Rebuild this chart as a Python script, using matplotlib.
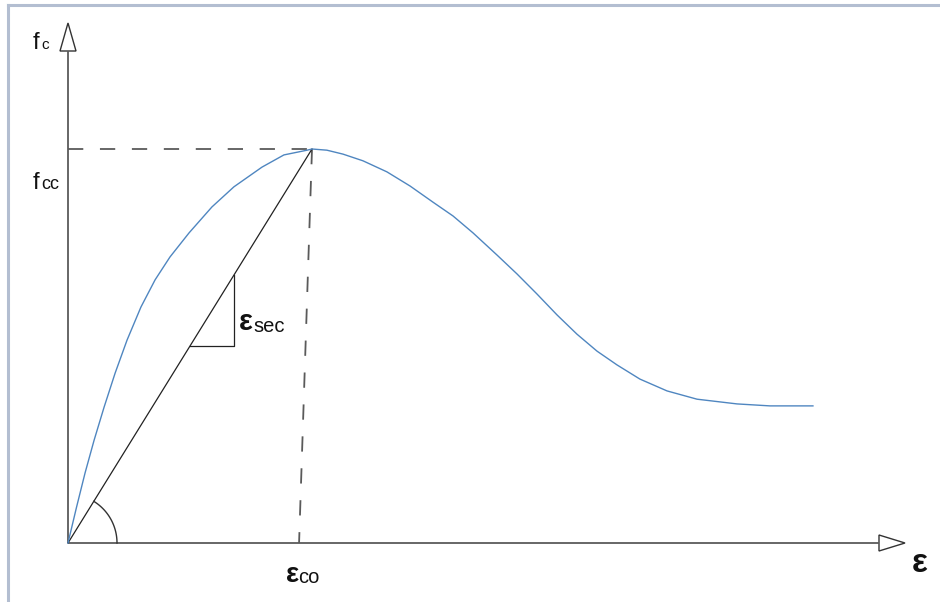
import numpy as np
import matplotlib.pyplot as plt
from matplotlib.lines import Line2D
from matplotlib.patches import Polygon

plt.rcParams['font.family'] = ['Liberation Sans', 'DejaVu Sans']
plt.rcParams['lines.scale_dashes'] = False

# Stress-strain curve, normalised so that the peak sits at (1, 1).
strain = [0.0, 0.035, 0.070, 0.107, 0.148, 0.193, 0.242, 0.299, 0.357, 0.418,
          0.496, 0.590, 0.680, 0.795, 0.885, 0.980, 1.0,
          1.061, 1.127, 1.209, 1.307, 1.402, 1.496, 1.578, 1.660, 1.758,
          1.840, 1.922, 2.004, 2.086, 2.168, 2.250, 2.344, 2.455, 2.578,
          2.742, 2.877, 3.053]
stress = [0.0, 0.091, 0.178, 0.261, 0.345, 0.431, 0.515, 0.599, 0.668, 0.726,
          0.787, 0.853, 0.904, 0.954, 0.985, 0.997, 1.0,
          0.997, 0.987, 0.970, 0.942, 0.906, 0.865, 0.830, 0.787, 0.731,
          0.683, 0.632, 0.579, 0.530, 0.487, 0.452, 0.416, 0.386, 0.365,
          0.353, 0.348, 0.348]

eps_peak = 1.0       # strain at peak stress
f_cc = 1.0           # peak stress
eps_co_axis = 0.947  # where the dashed drop line meets the strain axis
slope_tri = [0.5, 0.68]  # secant slope triangle corners (strain = stress on secant)

# Figure layout in pixels
W, H = 940, 602
X0, Y0 = 68, 543      # origin in pixels
SX, SY = 244, 394     # pixels per unit

fig = plt.figure(figsize=(W / 100, H / 100), dpi=100)
ax = fig.add_axes([0, 0, 1, 1])
ax.set_xlim(-X0 / SX, (W - X0) / SX)
ax.set_ylim(-(H - Y0) / SY, Y0 / SY)
ax.axis('off')

axis_col = '#5a5a5a'

# y axis with hollow arrow head
y_base = (Y0 - 51) / SY
y_tip = (Y0 - 23) / SY
ax.plot([0, 0], [0, y_base], color=axis_col, lw=1.3, solid_capstyle='butt')
ax.add_patch(Polygon([(-8 / SX, y_base), (8 / SX, y_base), (0, y_tip)],
                     closed=True, facecolor='white', edgecolor='#333333', lw=1.0))

# x axis with hollow arrow head
x_base = (879 - X0) / SX
x_tip = (905 - X0) / SX
ax.plot([0, x_base], [0, 0], color=axis_col, lw=1.3, solid_capstyle='butt')
ax.add_patch(Polygon([(x_base, 8 / SY), (x_base, -8 / SY), (x_tip, 0)],
                     closed=True, facecolor='white', edgecolor='#333333', lw=1.0))

# dashed guides to the peak
dash = (0, (11, 12))
ax.plot([0, eps_peak], [f_cc, f_cc], color=axis_col, lw=1.3, ls=dash)
ax.plot([eps_peak, eps_co_axis], [f_cc, 0], color=axis_col, lw=1.3, ls=dash)

# secant line
ax.plot([0, eps_peak], [0, f_cc], color='#222222', lw=0.9)

# slope triangle
a, b = slope_tri
ax.plot([a, b, b], [a, a, b], color='#222222', lw=0.9)

# angle arc at origin
r = 49
t = np.linspace(0, np.arctan2(SY * f_cc, SX * eps_peak), 60)
ax.plot(r / SX * np.cos(t), r / SY * np.sin(t), color='#333333', lw=1.0)

# stress-strain curve
ax.plot(strain, stress, color='#4f86c0', lw=1.0, solid_joinstyle='round')


def put(xp, yp, s, size, weight='normal'):
    fig.text(xp / W, 1 - yp / H, s, fontsize=size, color='#111111',
             ha='left', va='baseline', fontweight=weight)


put(33, 49, 'f', 17)
put(41, 49, 'c', 11)
put(33, 189, 'f', 17)
put(41, 189, 'cc', 13)
put(239, 330, 'ε', 21, 'bold')
put(253, 332, 'sec', 14.5)
put(286, 582, 'ε', 20, 'bold')
put(298, 583, 'co', 14.5)
put(912, 572, 'ε', 24, 'bold')

# light frame along the top and left
fc = '#b3bed1'
fig.add_artist(Line2D([8 / W, 1], [1 - 5 / H, 1 - 5 / H], transform=fig.transFigure,
                      color=fc, lw=2.2))
fig.add_artist(Line2D([8 / W, 8 / W], [1 - 5 / H, 0], transform=fig.transFigure,
                      color=fc, lw=2.2))

fig.savefig('out.png', dpi=100)
